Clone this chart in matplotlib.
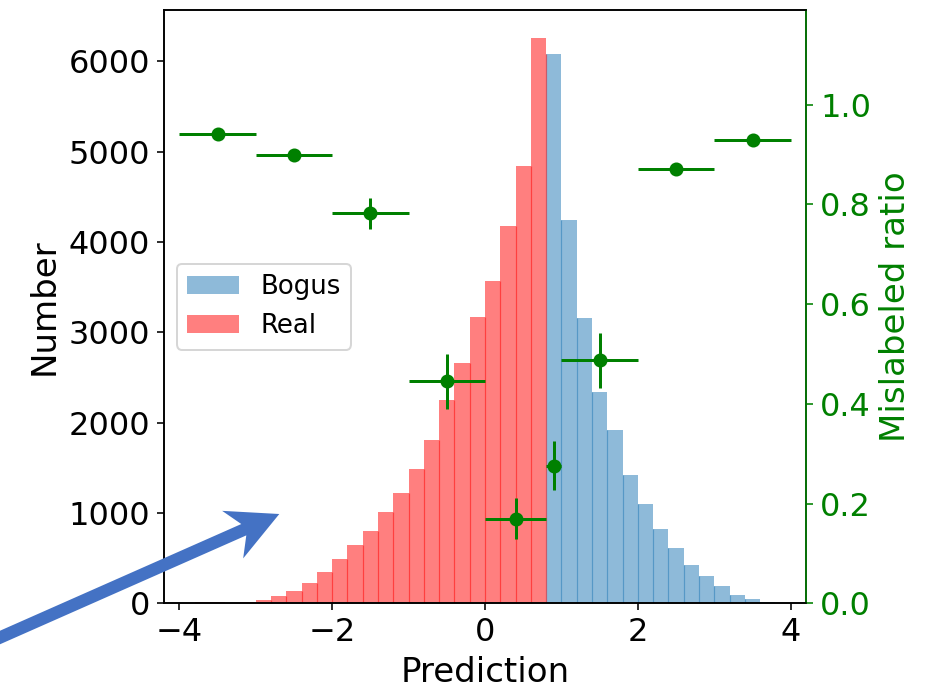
import numpy as np
import matplotlib
matplotlib.use("Agg")
import matplotlib.pyplot as plt
from matplotlib.patches import Polygon

# ---- data ----
bin_width = 0.2
real_left_edges = [-4.0, -3.8, -3.6, -3.4, -3.2, -3.0, -2.8, -2.6, -2.4, -2.2, -2.0, -1.8,
                   -1.6, -1.4, -1.2, -1.0, -0.8, -0.6, -0.4, -0.2, 0.0, 0.2, 0.4, 0.6]
real_counts = [3, 10, 18, 8, 18, 41, 85, 140, 221, 351, 494, 642,
               804, 1015, 1225, 1491, 1812, 2255, 2657, 3166, 3565, 4174, 4838, 6255]
bogus_left_edges = [0.8, 1.0, 1.2, 1.4, 1.6, 1.8, 2.0, 2.2, 2.4, 2.6, 2.8, 3.0,
                    3.2, 3.4, 3.6, 3.8]
bogus_counts = [6078, 4247, 3162, 2343, 1921, 1425, 1094, 827, 614, 426, 307, 197,
                94, 49, 16, 5]

ratio_x = [-3.5, -2.5, -1.5, -0.5, 0.4, 0.9, 1.5, 2.5, 3.5]
ratio_xerr = [0.5, 0.5, 0.5, 0.5, 0.4, 0.1, 0.5, 0.5, 0.5]
ratio_y = [0.941, 0.899, 0.782, 0.445, 0.170, 0.276, 0.487, 0.871, 0.930]
ratio_yerr = [0.004, 0.005, 0.031, 0.056, 0.042, 0.049, 0.056, 0.005, 0.004]

x_ticks = [-4, -2, 0, 2, 4]
left_ticks = [0, 1000, 2000, 3000, 4000, 5000, 6000]
right_ticks = [0.0, 0.2, 0.4, 0.6, 0.8, 1.0]

# ---- figure ----
W, H, DPI = 928, 690, 144
fig = plt.figure(figsize=(W / DPI, H / DPI), dpi=DPI)
ax = fig.add_axes([164 / W, 1 - 603.3 / H, (806 - 164) / W, (603.3 - 10) / H])

ax.bar(bogus_left_edges, bogus_counts, width=bin_width, align="edge",
       color="tab:blue", alpha=0.5, label="Bogus", linewidth=0)
ax.bar(real_left_edges, real_counts, width=bin_width, align="edge",
       color="red", alpha=0.5, label="Real", linewidth=0)

# seams between adjacent bars (overlapping translucent edges)
b_edges = np.array(bogus_left_edges)
b_cnt = np.array(bogus_counts)
ax.vlines(b_edges[1:], 0, np.minimum(b_cnt[:-1], b_cnt[1:]),
          color="tab:blue", alpha=0.5, linewidth=0.6)
r_edges = np.array(real_left_edges)
r_cnt = np.array(real_counts)
ax.vlines(r_edges[1:], 0, np.minimum(r_cnt[:-1], r_cnt[1:]),
          color="red", alpha=0.5, linewidth=0.6)
ax.vlines([bogus_left_edges[0]], 0, [min(real_counts[-1], bogus_counts[0])],
          color="red", alpha=0.5, linewidth=0.6)

ax.set_xlim(-4.2, 4.2)
ax.set_ylim(0, max(real_counts + bogus_counts) * 1.05)
ax.set_xticks(x_ticks)
ax.set_yticks(left_ticks)
ax.tick_params(labelsize=16)
ax.set_xlabel("Prediction", fontsize=17)
ax.set_ylabel("Number", fontsize=17)
ax.legend(loc="center left", fontsize=13)

ax2 = ax.twinx()
ax2.errorbar(ratio_x, ratio_y, xerr=ratio_xerr, yerr=ratio_yerr, fmt="o",
             color="green", markersize=6, linewidth=1.5)
ax2.set_ylim(0, 1.19)
ax2.set_yticks(right_ticks)
ax2.tick_params(axis="y", labelsize=16, colors="green")
ax2.spines["right"].set_color("green")
ax2.set_ylabel("Mislabeled ratio", fontsize=17, color="green")

# ---- annotation arrow (image pixel geometry -> figure fraction) ----
tip = np.array([279.3, 514.0])
u = np.array([279.3, -123.5]); u = u / np.linalg.norm(u)
n = np.array([-u[1], u[0]])
if n[1] < 0:
    n = -n
head_len, head_half, notch, shaft_half = 51.0, 26.0, 35.0, 6.2
back = notch + (head_len - notch) * shaft_half / head_half
pts = [tip - 340 * u - shaft_half * n,
       tip - back * u - shaft_half * n,
       tip - head_len * u - head_half * n,
       tip,
       tip - head_len * u + head_half * n,
       tip - back * u + shaft_half * n,
       tip - 340 * u + shaft_half * n]
pts = [(p[0] / W, 1 - p[1] / H) for p in pts]
fig.patches.append(Polygon(pts, closed=True, transform=fig.transFigure,
                           facecolor="#4472C4", edgecolor="none", clip_on=False, zorder=10))

fig.savefig("out.png", dpi=DPI)
